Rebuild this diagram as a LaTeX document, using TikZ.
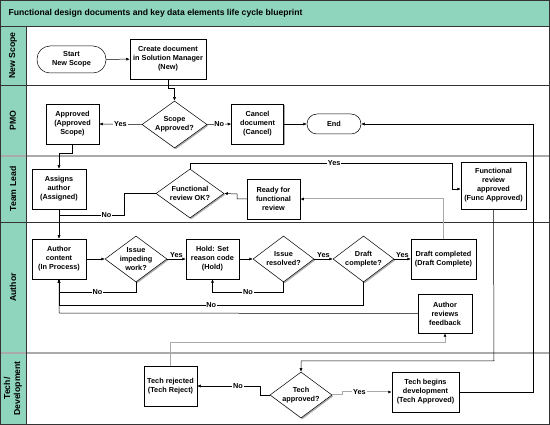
\documentclass[tikz,border=0pt]{standalone}
\usepackage{fontspec}
\setmainfont{Liberation Sans}
\usetikzlibrary{shapes.geometric,arrows.meta,shadows}
\definecolor{tealbar}{RGB}{143,212,188}
\definecolor{lanegray}{RGB}{170,170,170}
\begin{document}
\begin{tikzpicture}[x=1pt,y=-1pt,
  every node/.style={font=\fontsize{7.3}{9}\selectfont\bfseries},
  shad/.style={drop shadow={shadow xshift=1.3pt,shadow yshift=-1.3pt,fill=lanegray,opacity=1}},
  box/.style={draw=black,line width=0.5pt,fill=white,align=center,inner sep=1pt,shad},
  term/.style={draw=black,line width=0.5pt,fill=white,align=center,rounded corners=10pt,inner sep=1pt},
  dec/.style={diamond,draw=black,line width=0.5pt,fill=white,inner sep=0pt,shad},
  conn/.style={draw=black,line width=0.5pt,-{Latex[length=3.5pt,width=3pt]}},
  gconn/.style={draw=lanegray,line width=1pt,-{Latex[length=3.5pt,width=3pt,fill=black,color=black]}},
  plain/.style={draw=black,line width=0.5pt},
  lab/.style={fill=white,inner sep=0.8pt},
  lanetxt/.style={rotate=90,font=\fontsize{8.7}{10}\selectfont\bfseries,align=center}
]
\useasboundingbox (0,0) rectangle (550,425);
% background and frame
\fill[white] (0,0) rectangle (550,425);
\fill[tealbar] (0,0) rectangle (549.5,26);
\fill[tealbar] (0,26) rectangle (26,424.5);
\node[anchor=west,font=\fontsize{8.6}{9}\selectfont\bfseries] (title) at (5,13) {Functional design documents and key data elements life cycle blueprint};
% lane lines
\draw[gray!40!black,line width=0.6pt] (0,26) -- (549.5,26);
\draw[gray!40!black,line width=0.6pt] (0,85) -- (549.5,85);
\draw[lanegray,line width=1.2pt] (0,156) -- (549.5,156);
\draw[gray!40!black,line width=0.6pt] (0,222) -- (549.5,222);
\draw[lanegray,line width=1.2pt] (0,353) -- (549.5,353);
\draw[gray!40!black,line width=0.6pt] (26,26) -- (26,424.5);
\draw[gray!40!black,line width=0.8pt] (0.4,0.4) rectangle (549.6,424.6);
% lane labels
\node[lanetxt] (l1) at (13,55.5) {New Scope};
\node[lanetxt] (l2) at (13,120.5) {PMO};
\node[lanetxt] (l3) at (13,189) {Team Lead};
\node[lanetxt] (l4) at (13,287.5) {Author};
\node[lanetxt] (l5) at (13,388.5) {Tech/\\Development};

% nodes
\node[term,minimum width=69pt,minimum height=27pt,rounded corners=13pt] (start) at (71.5,59.5) {Start\\New Scope};
\node[box,minimum width=76pt,minimum height=40pt] (create) at (168,59) {Create document\\in Solution Manager\\(New)};
\node[dec,minimum width=65pt,minimum height=47pt,label={[align=center]center:Scope\\Approved?}] (scope) at (174.5,124.5) {};
\node[box,minimum width=53pt,minimum height=40pt] (approved) at (72.5,124) {Approved\\(Approved\\Scope)};
\node[box,minimum width=52pt,minimum height=40pt] (cancel) at (257.5,124) {Cancel\\document\\(Cancel)};
\node[term,minimum width=54pt,minimum height=20pt] (end) at (334,124) {End};
\node[box,minimum width=54pt,minimum height=40pt] (assigns) at (59,189) {Assigns\\author\\(Assigned)};
\node[dec,minimum width=68pt,minimum height=49pt,label={[align=center]center:Functional\\review OK?}] (fro) at (190,193.5) {};
\node[box,minimum width=53pt,minimum height=40pt] (ready) at (273.5,199) {Ready for\\functional\\review};
\node[box,minimum width=65pt,minimum height=47pt] (funcapp) at (493.5,185.5) {Functional\\review\\approved\\(Func Approved)};
\node[box,minimum width=54pt,minimum height=40pt] (author) at (59,259) {Author\\content\\(In Process)};
\node[dec,minimum width=62pt,minimum height=46pt,label={[align=center]center:Issue\\impeding\\work?}] (impede) at (136,259) {};
\node[box,minimum width=53pt,minimum height=40pt] (hold) at (212.5,259) {Hold: Set\\reason code\\(Hold)};
\node[dec,minimum width=61pt,minimum height=46pt,label={[align=center]center:Issue\\resolved?}] (resolved) at (283.5,259) {};
\node[dec,minimum width=61pt,minimum height=46pt,label={[align=center]center:Draft\\complete?}] (draftq) at (363.5,259) {};
\node[box,minimum width=65pt,minimum height=40pt] (draftc) at (443.5,259) {Draft completed\\(Draft Complete)};
\node[box,minimum width=54pt,minimum height=39pt] (reviews) at (445,313.5) {Author\\reviews\\feedback};
\node[box,minimum width=53pt,minimum height=40pt] (techrej) at (170.5,386) {Tech rejected\\(Tech Reject)};
\node[dec,minimum width=62pt,minimum height=46pt,label={[align=center]center:Tech\\approved?}] (techq) at (301,395) {};
\node[box,minimum width=67pt,minimum height=40pt] (techbeg) at (425.5,392) {Tech begins\\development\\(Tech Approved)};

% connectors
\draw[conn] (start) -- (create);
\draw[conn] (create.south) -- (168,88) -- (174.5,88) -- (scope.north);
\draw[conn] (scope.west) -- node[lab]{Yes} (approved.east);
\draw[conn] (scope.east) -- node[lab]{No} (cancel.west);
\draw[conn] (cancel.east) -- (end.west);
\draw[conn] (approved.south) -- (72.5,153) -- (59,153) -- (assigns.north);
\draw[conn] (assigns.south) -- (author.north);
\draw[plain] (fro.west) -- (124,193.5) -- (124,215) -- node[lab,pos=0.27]{No} (59,215);
\draw[conn] (fro.north) -- (190,163) -- node[lab,pos=0.55]{Yes} (452,163) -- (452,189) -- (funcapp.west |- 0,189);
\draw[gconn] (draftc.north) -- (443.5,199) -- (ready.east);
\draw[conn] (ready.west) -- (237,199) -- (237,194) -- (fro.east);
\draw[conn] (author.east) -- (impede.west);
\draw[conn] (impede.east) -- node[above,inner sep=1pt]{Yes} (hold.west);
\draw[conn] (hold.east) -- (resolved.west);
\draw[conn] (resolved.east) -- node[above,inner sep=1pt]{Yes} (draftq.west);
\draw[conn] (draftq.east) -- node[above,inner sep=1pt]{Yes} (draftc.west);
\draw[conn] (impede.south) -- (136,292) -- node[lab,pos=0.5]{No} (59,292) -- (author.south);
\draw[conn] (resolved.south) -- (283.5,292) -- node[lab,pos=0.5]{No} (212.5,292) -- (hold.south);
\draw[conn] (draftq.south) -- (363.5,305) -- node[lab,pos=0.5]{No} (59,305) -- (author.south);
\draw[conn] (reviews.west) -- (59,313) -- (author.south);
\draw[gconn] (techrej.north) -- (170.5,343) -- (445,343) -- (reviews.south);
\draw[conn] (funcapp.south) -- (494,361) -- (301,361) -- (techq.north);
\draw[conn] (techq.west) -- (260,395) -- (260,386) -- node[lab,pos=0.35]{No} (techrej.east);
\draw[gconn] (techq.east) -- (342,395) -- (342,392) -- node[lab,pos=0.35]{Yes} (techbeg.west);
\draw[conn] (techbeg.east) -- (533,392) -- (533,124) -- (end.east);
\end{tikzpicture}
\end{document}
